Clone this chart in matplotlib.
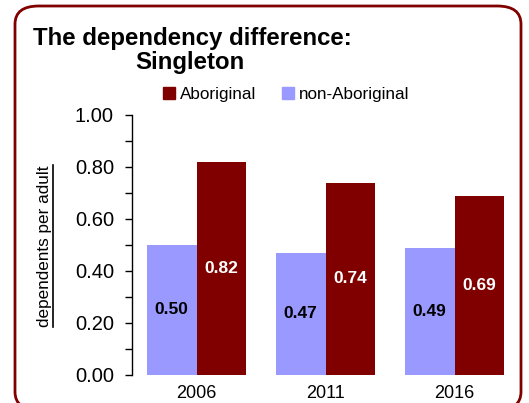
import matplotlib
matplotlib.use("Agg")
import matplotlib.pyplot as plt
import numpy as np
from matplotlib.patches import FancyBboxPatch, Patch
from matplotlib.lines import Line2D

plt.rcParams['font.family'] = ['Liberation Sans', 'DejaVu Sans']

years = ['2006', '2011', '2016']
aboriginal = [0.82, 0.74, 0.69]
non_aboriginal = [0.50, 0.47, 0.49]

red = '#800000'
blue = '#9999FF'

W, H = 529, 403
fig = plt.figure(figsize=(W / 100, H / 100), dpi=100)

# rounded frame around the chart (bottom edge falls just outside the image)
frame = FancyBboxPatch((15 / W, 1 - 410 / H), 506 / W, 404 / H,
                       boxstyle="round,pad=0,rounding_size=0.045",
                       transform=fig.transFigure, facecolor='none',
                       edgecolor=red, linewidth=2, clip_on=False)
fig.patches.append(frame)

ax = fig.add_axes([132 / W, 1 - 375 / H, 387 / W, 260 / H])
x = np.arange(len(years))
w = 0.385
b1 = ax.bar(x - w / 2, non_aboriginal, w, color=blue)
b2 = ax.bar(x + w / 2, aboriginal, w, color=red)

ax.bar_label(b1, labels=[f'{v:.2f}' for v in non_aboriginal], label_type='center',
             fontsize=12.5, fontweight='bold', color='black')
ax.bar_label(b2, labels=[f'{v:.2f}' for v in aboriginal], label_type='center',
             fontsize=12.5, fontweight='bold', color='white')

ax.set_xlim(-0.5, 2.5)
ax.set_ylim(0, 1.0)
ax.set_yticks(np.arange(0, 1.01, 0.2))
ax.set_yticks(np.arange(0.1, 1.0, 0.2), minor=True)
ax.set_yticklabels([f'{v:.2f}' for v in np.arange(0, 1.01, 0.2)], fontsize=14.5)
ax.set_xticks(x)
ax.set_xticklabels(years, fontsize=13)
ax.tick_params(axis='y', which='both', length=5, width=1, direction='out', pad=8)
ax.tick_params(axis='x', length=0, pad=7)
for s in ['top', 'right', 'bottom']:
    ax.spines[s].set_visible(False)
ax.spines['left'].set_linewidth(1)

# title
fig.text(33 / W, 1 - 38 / H, 'The dependency difference:', fontsize=17.3,
         fontweight='bold', va='center', ha='left')
fig.text(190 / W, 1 - 63 / H, 'Singleton', fontsize=17.3,
         fontweight='bold', va='center', ha='center')

# legend
handles = [Patch(color=red, label='Aboriginal'), Patch(color=blue, label='non-Aboriginal')]
fig.legend(handles=handles, loc='center', bbox_to_anchor=(286 / W, 1 - 94 / H),
           ncol=2, frameon=False, fontsize=12.3, handlelength=0.7, handleheight=0.7,
           handletextpad=0.3, columnspacing=1.5)

# y label with underline
yl = fig.text(45 / W, 1 - 246 / H, 'dependents per adult', rotation=90,
              fontsize=12.3, va='center', ha='center')
fig.canvas.draw()
bb = yl.get_window_extent().transformed(fig.transFigure.inverted())
fig.add_artist(Line2D([bb.x1 + 0.5 / W, bb.x1 + 0.5 / W], [bb.y0, bb.y1],
                      transform=fig.transFigure, color='black', linewidth=1.2))

fig.savefig('out.png', dpi=100)
